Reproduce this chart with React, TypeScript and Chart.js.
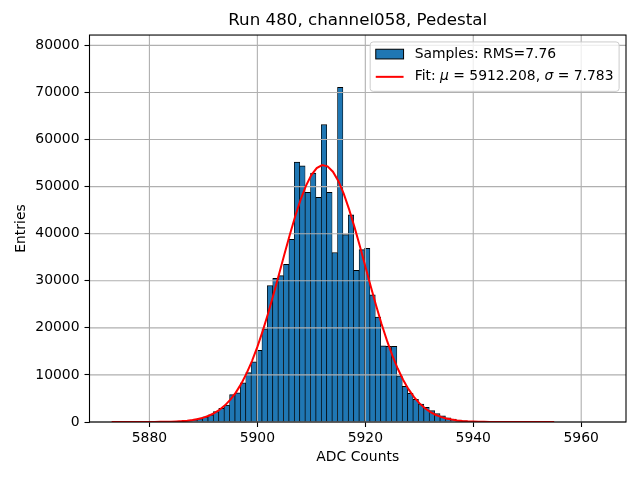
import { useEffect, useRef } from 'react';
import { Chart, registerables } from 'chart.js';

Chart.register(...registerables);

// histogram: one bin per ADC count (left edge) and its entries
const adcBins = [
  5882, 5883, 5884, 5885, 5886, 5887, 5888, 5889, 5890, 5891,
  5892, 5893, 5894, 5895, 5896, 5897, 5898, 5899, 5900, 5901,
  5902, 5903, 5904, 5905, 5906, 5907, 5908, 5909, 5910, 5911,
  5912, 5913, 5914, 5915, 5916, 5917, 5918, 5919, 5920, 5921,
  5922, 5923, 5924, 5925, 5926, 5927, 5928, 5929, 5930, 5931,
  5932, 5933, 5934, 5935, 5936, 5937, 5938, 5939, 5940, 5941,
  5942, 5943, 5944,
];
const entries = [
  20, 40, 60, 120, 200, 330, 480, 700, 1100, 1500,
  2200, 2900, 3600, 5800, 6200, 8300, 10500, 12800, 15200, 19800,
  29000, 30500, 31100, 33500, 38800, 55200, 54400, 48800, 52900, 47700,
  63200, 48800, 36000, 71100, 39800, 44000, 32200, 36600, 36900, 27000,
  22300, 16200, 16100, 16100, 9800, 7600, 6100, 4800, 3800, 3100,
  2400, 1800, 1300, 900, 600, 400, 250, 150, 90, 50,
  30, 15, 8,
];

// gaussian fit curve as drawn
const fitX = [
  5873, 5880, 5881, 5882, 5883, 5884, 5885, 5886, 5887, 5888, 5889,
  5890, 5891, 5892, 5893, 5894, 5895, 5896, 5897, 5898, 5899,
  5900, 5901, 5902, 5903, 5904, 5905, 5906, 5907, 5908, 5909,
  5910, 5911, 5912, 5913, 5914, 5915, 5916, 5917, 5918, 5919,
  5920, 5921, 5922, 5923, 5924, 5925, 5926, 5927, 5928, 5929,
  5930, 5931, 5932, 5933, 5934, 5935, 5936, 5937, 5938, 5939,
  5940, 5941, 5942, 5943, 5944, 5945, 5955,
];
const fitY = [
  1, 11, 18, 30, 48, 77, 121, 188, 288, 433, 640,
  932, 1333, 1877, 2598, 3537, 4738, 6245, 8093, 10317, 12937,
  15957, 19359, 23102, 27118, 31310, 35559, 39723, 43648, 47176, 50153,
  52447, 53946, 54580, 54318, 53172, 51198, 48490, 45173, 41394, 37312,
  33078, 28846, 24745, 20878, 17328, 14146, 11358, 8971, 6971, 5325,
  4003, 2960, 2153, 1540, 1084, 750, 510, 342, 225, 146,
  93, 58, 36, 22, 13, 8, 0,
];

const xTicks = [5880, 5900, 5920, 5940, 5960];
const yTicks = [0, 10000, 20000, 30000, 40000, 50000, 60000, 70000, 80000];

const titleText = 'Run 480, channel058, Pedestal';
const sampleLabel = 'Samples: RMS=7.76';
const fitLabel = 'Fit: μ = 5912.208, σ = 7.783';

const FAMILY = '"DejaVu Sans", sans-serif';
const FS = 13.9;

// split out the greek letters, matplotlib renders them as italic mathtext
function parts(text: string) {
  return text.split(/([μσ])/).filter(Boolean).map((s) => ({ s, italic: s === 'μ' || s === 'σ' }));
}

function richWidth(ctx: CanvasRenderingContext2D, text: string) {
  let w = 0;
  for (const p of parts(text)) {
    ctx.font = `${p.italic ? 'italic ' : ''}${FS}px ${FAMILY}`;
    w += ctx.measureText(p.s).width;
  }
  return w;
}

function drawRich(ctx: CanvasRenderingContext2D, text: string, x: number, y: number) {
  for (const p of parts(text)) {
    ctx.font = `${p.italic ? 'italic ' : ''}${FS}px ${FAMILY}`;
    ctx.fillText(p.s, x, y);
    x += ctx.measureText(p.s).width;
  }
}

const histDecor = {
  id: 'histDecor',
  // grid sits above the bars but below the fit line
  afterDatasetDraw(chart: any, args: any) {
    if (args.index !== 0) return;
    const { ctx, chartArea: a, scales } = chart;
    ctx.save();
    ctx.strokeStyle = '#b0b0b0';
    ctx.lineWidth = 1.1;
    ctx.beginPath();
    for (const t of scales.x.ticks) {
      const p = scales.x.getPixelForValue(t.value);
      ctx.moveTo(p, a.top);
      ctx.lineTo(p, a.bottom);
    }
    for (const t of scales.y.ticks) {
      const p = scales.y.getPixelForValue(t.value);
      ctx.moveTo(a.left, p);
      ctx.lineTo(a.right, p);
    }
    ctx.stroke();
    ctx.restore();
  },
  afterDatasetsDraw(chart: any) {
    const { ctx, chartArea: a } = chart;
    ctx.save();
    ctx.strokeStyle = '#000';
    ctx.lineWidth = 1.1;
    ctx.strokeRect(a.left, a.top, a.right - a.left, a.bottom - a.top);

    // legend, upper right
    const ds = chart.data.datasets;
    const textW = Math.max(richWidth(ctx, ds[0].label), richWidth(ctx, ds[1].label));
    const pad = 5.6;
    const handleW = 27.8;
    const gap = 11.1;
    const right = a.right - 6.9;
    const top = a.top + 6.9;
    const w = pad + handleW + gap + textW + pad;
    const h = 49.4;
    const left = right - w;
    ctx.beginPath();
    ctx.roundRect(left, top, w, h, 3);
    ctx.fillStyle = 'rgba(255,255,255,0.8)';
    ctx.fill();
    ctx.strokeStyle = '#cccccc';
    ctx.lineWidth = 1;
    ctx.stroke();

    const row1 = top + 12.2;
    const row2 = row1 + 22.7;
    const hx = left + pad;
    ctx.fillStyle = ds[0].backgroundColor;
    ctx.fillRect(hx, row1 - 4.9, handleW, 9.7);
    ctx.strokeStyle = '#000';
    ctx.lineWidth = 1;
    ctx.strokeRect(hx, row1 - 4.9, handleW, 9.7);

    ctx.strokeStyle = ds[1].borderColor;
    ctx.lineWidth = 2;
    ctx.beginPath();
    ctx.moveTo(hx, row2);
    ctx.lineTo(hx + handleW, row2);
    ctx.stroke();

    ctx.fillStyle = '#000';
    ctx.textBaseline = 'middle';
    ctx.textAlign = 'left';
    drawRich(ctx, ds[0].label, hx + handleW + gap, row1);
    drawRich(ctx, ds[1].label, hx + handleW + gap, row2);
    ctx.restore();
  },
};

export default function App() {
  const canvasRef = useRef<HTMLCanvasElement | null>(null);
  const chartRef = useRef<Chart | null>(null);

  useEffect(() => {
    if (!canvasRef.current) return;
    if (chartRef.current) chartRef.current.destroy();

    Chart.defaults.font.family = FAMILY;
    Chart.defaults.color = '#000';

    chartRef.current = new Chart(canvasRef.current, {
      type: 'bar',
      data: {
        datasets: [
          {
            type: 'bar',
            label: sampleLabel,
            data: adcBins.map((b, i) => ({ x: b + 0.35, y: entries[i] })),
            backgroundColor: '#1f77b4',
            borderColor: '#000',
            borderWidth: { top: 1, left: 0.7, right: 0.7, bottom: 0 },
            barPercentage: 1,
            categoryPercentage: 1,
            order: 1,
          },
          {
            type: 'line',
            label: fitLabel,
            data: fitX.map((x, i) => ({ x, y: fitY[i] })),
            borderColor: '#ff0000',
            borderWidth: 2,
            pointRadius: 0,
            tension: 0,
            order: 0,
          },
        ],
      } as any,
      options: {
        animation: false,
        responsive: true,
        maintainAspectRatio: false,
        layout: { padding: { left: 0, right: 14, top: 0, bottom: 0 } },
        plugins: {
          legend: { display: false },
          tooltip: { enabled: false },
          title: {
            display: true,
            text: titleText,
            fullSize: false,
            font: { size: 16.7, weight: 'normal' },
            color: '#000',
            padding: { top: 11, bottom: 4 },
          },
        },
        scales: {
          x: {
            type: 'linear',
            min: 5868.9,
            max: 5968.3,
            offset: false,
            afterBuildTicks: (s: any) => {
              s.ticks = xTicks.map((value) => ({ value }));
            },
            afterFit: (s: any) => {
              s.height = 58;
            },
            grid: { offset: false, drawOnChartArea: false, tickLength: 5, tickColor: '#000', tickWidth: 1.1 },
            border: { display: false },
            ticks: { font: { size: FS }, color: '#000', padding: 3, maxRotation: 0, autoSkip: false, callback: (v: any) => String(v) },
            title: { display: true, text: 'ADC Counts', font: { size: FS }, color: '#000', padding: { top: 0, bottom: 14.7 } },
          },
          y: {
            type: 'linear',
            min: 0,
            max: 82200,
            afterBuildTicks: (s: any) => {
              s.ticks = yTicks.map((value) => ({ value }));
            },
            afterFit: (s: any) => {
              s.width = 89.5;
            },
            grid: { drawOnChartArea: false, tickLength: 5, tickColor: '#000', tickWidth: 1.1 },
            border: { display: false },
            ticks: { font: { size: FS }, color: '#000', padding: 5, autoSkip: false, callback: (v: any) => String(v) },
            title: { display: true, text: 'Entries', font: { size: FS }, color: '#000', padding: { top: 13.2, bottom: 0 } },
          },
        },
      } as any,
      plugins: [histDecor as any],
    });

    return () => {
      if (chartRef.current) {
        chartRef.current.destroy();
        chartRef.current = null;
      }
    };
  }, []);

  return (
    <div style={{ position: 'absolute', left: 0, top: 0, width: 640, height: 480, background: '#fff' }}>
      <canvas ref={canvasRef} />
    </div>
  );
}
